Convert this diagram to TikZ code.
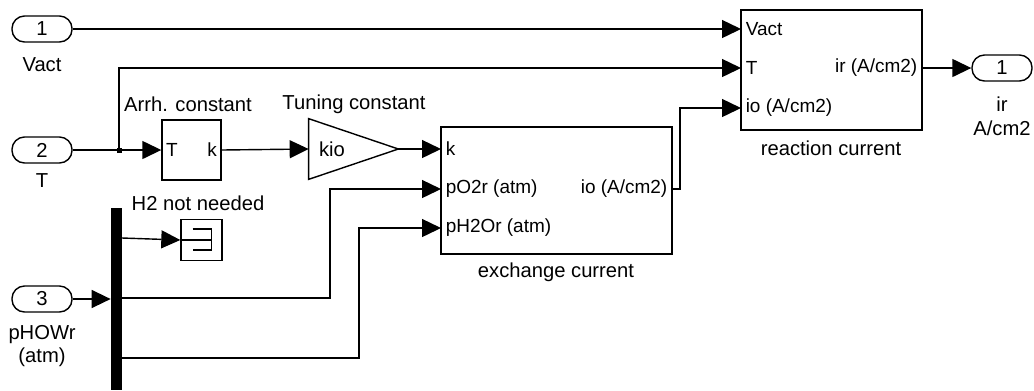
\documentclass[tikz,border=0pt]{standalone}
\usepackage{fontspec}
\setmainfont{Liberation Sans}
\usetikzlibrary{arrows.meta}
\tikzset{
  sig/.style={line width=0.8pt,-{Triangle[length=0.38cm,width=0.36cm]}},
  wire/.style={line width=0.8pt},
  blk/.style={draw,line width=0.8pt,inner sep=0pt},
  portblk/.style={draw,line width=0.8pt,rounded corners=0.25cm,minimum width=1.2cm,
    minimum height=0.52cm,inner sep=0pt,font=\fontsize{11.5}{13}\selectfont},
  lab/.style={font=\fontsize{11.5}{13.5}\selectfont,inner sep=0pt,align=center},
  plab/.style={font=\fontsize{10.8}{12}\selectfont,inner sep=2.5pt},
  branchpt/.style={fill,inner sep=0pt,minimum size=0.1cm},
}
\begin{document}
\begin{tikzpicture}[x=0.02cm,y=-0.02cm]
\useasboundingbox (0,0) rectangle (1034,390);

% inports and outport
\node[portblk] (in1) at (42,29) {1};
\node[lab] (in1lab) at (42,65) {Vact};
\node[portblk] (in2) at (42,150) {2};
\node[lab] (in2lab) at (42,181) {T};
\node[portblk] (in3) at (42,299) {3};
\node[lab] (in3lab) at (42,346) {pHOWr\\(atm)};
\node[portblk] (out1) at (1002,68) {1};
\node[lab] (out1lab) at (1002,116) {ir\\A/cm2};

% Arrhenius block
\node[blk,minimum width=1.18cm,minimum height=1.2cm] (arrh) at (191.5,150) {};
\node[lab] (arrhlab) at (188,104) {Arrh. constant};
\node[plab,anchor=west] at (arrh.west) {T};
\node[plab,anchor=east] at (arrh.east) {k};

% gain
\node[minimum width=1.78cm,minimum height=1.2cm,inner sep=0pt] (gain) at (353.5,149) {};
\draw[wire] (gain.north west) -- (gain.east) -- (gain.south west) -- cycle;
\node[lab] (kio) at (332,149) {kio};
\node[lab] (gainlab) at (354,104) {Tuning constant};

% exchange current
\node[blk,minimum width=4.62cm,minimum height=2.54cm] (exch) at (556.5,190.5) {};
\node[lab] (exchlab) at (556,272) {exchange current};
\coordinate (exk) at (441,149);
\coordinate (exO2) at (441,189);
\coordinate (exH2) at (441,228);
\coordinate (exio) at (672,189);
\node[plab,anchor=west] at (exk) {k};
\node[plab,anchor=west] at (exO2) {pO2r (atm)};
\node[plab,anchor=west] at (exH2) {pH2Or (atm)};
\node[plab,anchor=east] at (exio) {io (A/cm2)};

% reaction current
\node[blk,minimum width=3.62cm,minimum height=2.4cm] (react) at (831.5,70) {};
\node[lab] (reactlab) at (831,148) {reaction current};
\coordinate (rVact) at (741,29);
\coordinate (rT) at (741,68);
\coordinate (rio) at (741,108);
\coordinate (rir) at (922,68);
\node[plab,anchor=west] at (rVact) {Vact};
\node[plab,anchor=west] at (rT) {T};
\node[plab,anchor=west] at (rio) {io (A/cm2)};
\node[plab,anchor=east] at (rir) {ir (A/cm2)};

% demux and terminator
\node[fill,minimum width=0.22cm,minimum height=3.64cm,inner sep=0pt] (demux) at (116.5,299) {};
\coordinate (d1) at (122,238);
\coordinate (d2) at (122,298);
\coordinate (d3) at (122,358);
\node[blk,minimum width=0.82cm,minimum height=0.82cm] (term) at (201.5,240) {};
\draw[wire] (term.west) -- ++(30.5,0);
\draw[wire] ([shift={(-9,-11)}]term.center) -- ++(19,0) -- ++(0,21) -- ++(-19,0);
\node[lab] (termlab) at (198,203) {H2 not needed};

% signals
\draw[sig] (in1.east) -- (rVact);
\node[branchpt] (br) at (119,150) {};
\draw[sig] (in2.east) -- (arrh.west);
\draw[sig] (br.center) |- (rT);
\draw[sig] (arrh.east) -- (gain.west);
\draw[sig] (gain.east) -- (exk);
\draw[sig] (in3.east) -- (demux.west);
\draw[sig] (d1) -- (term.west);
\draw[sig] (d2) -- ++(208,0) |- (exO2);
\draw[sig] (d3) -- ++(237,0) |- (exH2);
\draw[sig] (exio) -- ++(8,0) |- (rio);
\draw[sig] (rir) -- (out1.west);
\end{tikzpicture}
\end{document}
